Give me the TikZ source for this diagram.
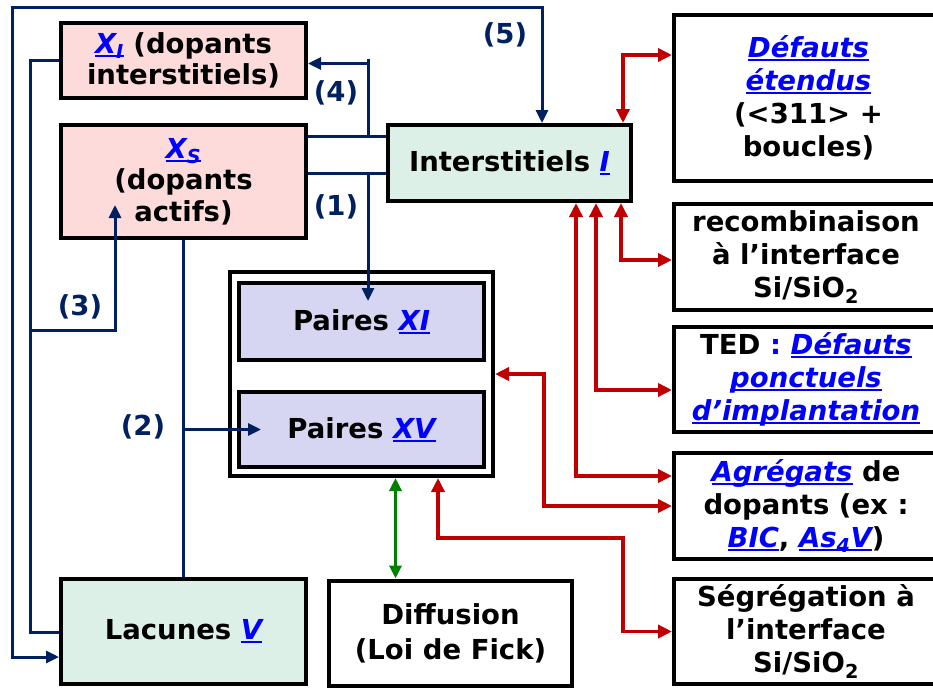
\documentclass[tikz,border=0pt]{standalone}
\usepackage{fontspec}
\setmainfont{DejaVu Sans}
\usetikzlibrary{arrows.meta,calc}
\definecolor{navyc}{RGB}{0,32,96}
\definecolor{redc}{RGB}{192,0,0}
\definecolor{greenc}{RGB}{0,128,0}
\definecolor{linkc}{RGB}{0,0,255}
\definecolor{pinkc}{RGB}{252,219,218}
\definecolor{mintc}{RGB}{221,240,231}
\definecolor{lavc}{RGB}{214,214,242}
\newsavebox\ulbox
\newcommand\lnk[1]{{\color{linkc}\itshape\sbox\ulbox{#1}\rlap{\rule[-0.13em]{\wd\ulbox}{0.07em}}\usebox\ulbox}}
\begin{document}
\begin{tikzpicture}[x=1pt,y=-1pt,
  box/.style={draw=black, line width=4pt, align=center, inner sep=0pt,
    font=\fontsize{27.5}{31.5}\selectfont\bfseries},
  rbox/.style={box, fill=white, minimum width=264pt,
    font=\fontsize{27.5}{33}\selectfont\bfseries},
  pinkbox/.style={box, fill=pinkc},
  mintbox/.style={box, fill=mintc},
  lavbox/.style={box, fill=lavc},
  nav/.style={draw=navyc, line width=3pt, >={Triangle[length=13pt,width=12pt]}},
  redl/.style={draw=redc, line width=3.8pt, >={Triangle[length=14pt,width=13pt]}},
  grnl/.style={draw=greenc, line width=3.5pt, >={Triangle[length=13pt,width=12pt]}},
  lab/.style={text=navyc, inner sep=0pt, font=\fontsize{27.5}{31.5}\selectfont\bfseries}]
\useasboundingbox (0,0) rectangle (933,688);
\clip (0,0) rectangle (933,688);
\fill[white] (0,0) rectangle (933,688);
% nodes
\node[pinkbox, minimum width=245pt, minimum height=75pt] (XI) at (183.5,60.5)
  {\lnk{X\textsubscript{I}} (dopants\\interstitiels)};
\node[pinkbox, minimum width=245pt, minimum height=113pt] (XS) at (183.5,181.5)
  {\lnk{X\textsubscript{S}}\\(dopants\\actifs)};
\node[mintbox, minimum width=243pt, minimum height=76pt] (I) at (509.5,163)
  {Interstitiels \lnk{I}};
\node[rbox, minimum width=269pt, minimum height=166pt] (Def) at (808.5,98)
  {\lnk{Défauts}\\\lnk{étendus}\\(<311> +\\boucles)};
\node[rbox, minimum height=106pt] (Rec) at (806,257)
  {recombinaison\\à l’interface\\Si/SiO\textsubscript{2}};
\node[rbox, minimum height=105pt] (TED) at (806,379.5)
  {TED {\color{linkc}:} \lnk{Défauts}\\\lnk{ponctuels}\\\lnk{d’implantation}};
\node[rbox, minimum height=106pt] (Agr) at (806,506)
  {\lnk{Agrégats} de\\dopants (ex :\\\lnk{BIC}, \lnk{As\textsubscript{4}V})};
\node[rbox, minimum height=105pt] (Seg) at (806,631.5)
  {Ségrégation à\\l’interface\\Si/SiO\textsubscript{2}};
\node[box, fill=white, minimum width=263pt, minimum height=204pt] (P) at (361.5,374) {};
\node[lavbox, minimum width=245pt, minimum height=77pt] (PXI) at (361.5,321.5)
  {Paires \lnk{XI}};
\node[lavbox, minimum width=245pt, minimum height=75pt] (PXV) at (361.5,429.5)
  {Paires \lnk{XV}};
\node[mintbox, minimum width=245pt, minimum height=105pt] (Lac) at (183.5,631.5)
  {Lacunes \lnk{V}};
\node[box, fill=white, minimum width=243pt, minimum height=105pt,
  font=\fontsize{27.5}{35}\selectfont\bfseries] (Dif) at (450.5,633)
  {Diffusion\\(Loi de Fick)};
% labels
\node[lab] (L1) at (336,207) {(1)};
\node[lab] (L2) at (143,427) {(2)};
\node[lab] (L3) at (80,307) {(3)};
\node[lab] (L4) at (336,93) {(4)};
\node[lab] (L5) at (505,35) {(5)};
% navy connectors
\coordinate (c5) at (12,7);
\draw[nav,<->] ($(I.north west)+(156,0)$) |- (c5) |- ($(Lac.west)+(0,25.5)$);
\draw[nav] ($(XS.north east)+(0,13)$) -- ($(I.north west)+(0,13)$);
\draw[nav] ($(XS.north east)+(0,50)$) -- ($(I.north west)+(0,50)$);
\coordinate (j4) at (368,137.75);
\coordinate (j1) at (368,174.75);
\draw[nav] (j4) -- (368,59);
\draw[nav,->] (368,63.5) -- ($(XI.east)+(0,3)$);
\draw[nav,->] (j1) -- ($(j1 |- PXI.north)+(0,20)$);
\coordinate (j3) at (30,330);
\draw[nav] (XI.west) -| (j3) |- ($(Lac.west)+(0,0.5)$);
\draw[nav,->] (j3) -| ($(XS.south west)+(56,-35)$);
\draw[nav] ($(Lac.north west)+(124,0)$) -- ($(XS.south west)+(124,0)$);
\coordinate (j2) at (184.75,429.5);
\draw[nav,->] (j2) -- ($(PXV.west)+(24,0)$);
% red connectors
\draw[redl,<->] ($(I.north east)+(-10,0)$) |- ($(Def.north west)+(0,42)$);
\draw[redl,<->] ($(I.south east)+(-12,0)$) |- ($(Rec.west)+(0,3)$);
\draw[redl,<->] ($(I.south east)+(-37,0)$) |- ($(TED.west)+(0,10.5)$);
\draw[redl,<->] ($(I.south east)+(-57,0)$) |- ($(Agr.west)+(0,-30)$);
\draw[redl,<->] (P.east) -- ++(49,0) |- (Agr.west);
\coordinate (jr) at (623,538);
\draw[redl,<->] ($(P.south east)+(-57,0)$) |- (jr) |- (Seg.west);
% green connector
\draw[grnl,<->] ($(P.south west)+(167.5,0)$) -- ($(Dif.north west)+(68.5,0)$);
\end{tikzpicture}
\end{document}
